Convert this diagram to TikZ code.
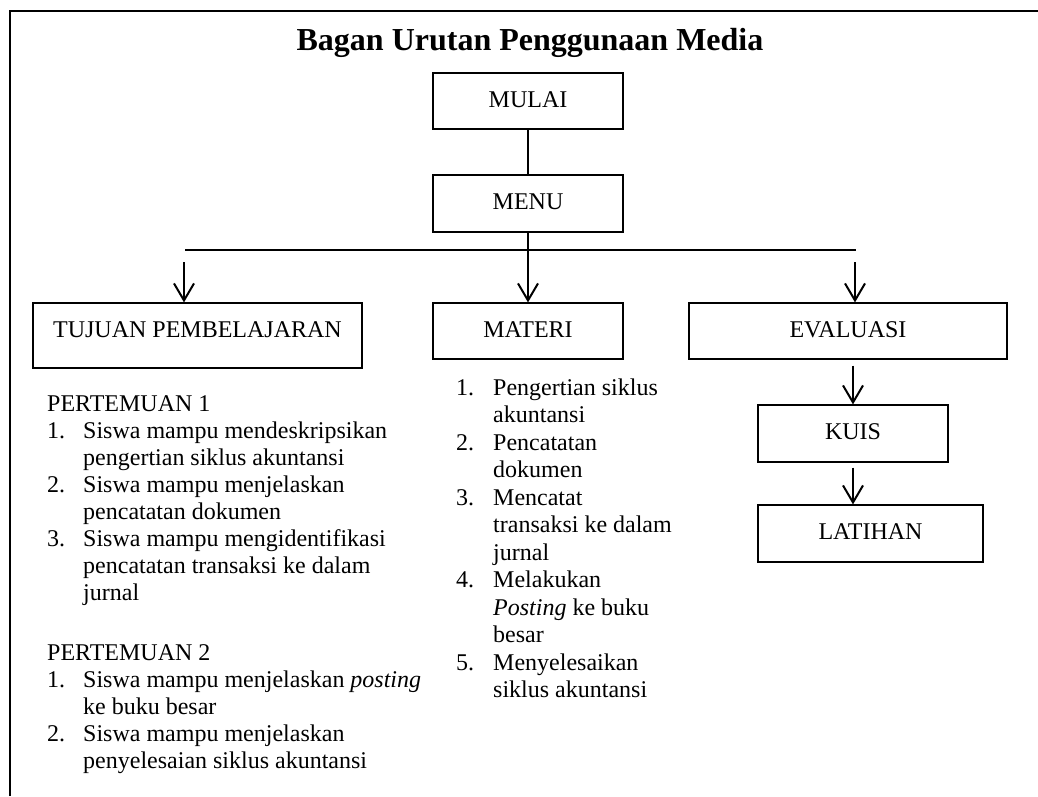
\documentclass[tikz,border=0pt]{standalone}
\usepackage{fontspec}
\setmainfont{Liberation Serif}
\usetikzlibrary{arrows.meta}
\begin{document}
\begin{tikzpicture}[x=1pt,y=-1pt,
  box/.style={draw, line width=1.2pt, inner sep=0pt, text height=34pt, font=\fontsize{24}{27}\selectfont},
  link/.style={line width=2pt},
  arr/.style={line width=2pt, -{Straight Barb[length=17pt,width=20pt,line width=2pt]}},
  listtext/.style={inner sep=0pt, anchor=base west}
]
\useasboundingbox (0,0) rectangle (1038,796);
\draw[line width=1.2pt] (10,796) -- (10,11) -- (1038,11);

\node[font=\bfseries\fontsize{32}{36}\selectfont, anchor=base, inner sep=0pt] (title) at (530,50) {Bagan Urutan Penggunaan Media};

\node[box, minimum width=190pt, text depth=22pt] (mulai) at (528,101) {MULAI};
\node[box, minimum width=190pt, text depth=23pt] (menu) at (528,203.5) {MENU};
\node[box, minimum width=329pt, text depth=31pt] (tujuan) at (197.5,335.5) {TUJUAN PEMBELAJARAN};
\node[box, minimum width=190pt, text depth=22pt] (materi) at (528,331) {MATERI};
\node[box, minimum width=318pt, text depth=22pt] (evaluasi) at (848,331) {EVALUASI};
\node[box, minimum width=190pt, text depth=23pt] (kuis) at (853,433.5) {KUIS};
\node[box, minimum width=225pt, text depth=23pt] (latihan) at (870.5,533.5) {LATIHAN};

\coordinate (barL) at (185,250);
\coordinate (barR) at (856,250);
\coordinate (aL) at (184,262);
\coordinate (aR) at (855,262);

\draw[link] (mulai.south) -- (menu.north);
\draw[link] (barL) -- (barR);
\draw[arr] (menu.south) -- (materi.north);
\draw[arr] (aL) -- (aL |- tujuan.north);
\draw[arr] (aR) -- (aR |- evaluasi.north);
\draw[arr, shorten <=6pt] (kuis.north |- evaluasi.south) -- (kuis.north);
\draw[arr, shorten <=5pt] (kuis.south) -- (kuis.south |- latihan.north);

\node[listtext, font=\fontsize{24}{27}\selectfont] (p1) at (47,411) {%
\begin{tabular}[t]{@{}p{36pt}@{}l@{}}
\multicolumn{2}{@{}l@{}}{PERTEMUAN 1}\\
1. & Siswa mampu mendeskripsikan\\
 & pengertian siklus akuntansi\\
2. & Siswa mampu menjelaskan\\
 & pencatatan dokumen\\
3. & Siswa mampu mengidentifikasi\\
 & pencatatan transaksi ke dalam\\
 & jurnal
\end{tabular}};

\node[listtext, font=\fontsize{24}{27}\selectfont] (p2) at (47,660) {%
\begin{tabular}[t]{@{}p{36pt}@{}l@{}}
\multicolumn{2}{@{}l@{}}{PERTEMUAN 2}\\
1. & Siswa mampu menjelaskan \textit{posting}\\
 & ke buku besar\\
2. & Siswa mampu menjelaskan\\
 & penyelesaian siklus akuntansi
\end{tabular}};

\node[listtext, font=\fontsize{24}{27.5}\selectfont] (mlist) at (456,395) {%
\begin{tabular}[t]{@{}p{37pt}@{}l@{}}
1. & Pengertian siklus\\
 & akuntansi\\
2. & Pencatatan\\
 & dokumen\\
3. & Mencatat\\
 & transaksi ke dalam\\
 & jurnal\\
4. & Melakukan\\
 & \textit{Posting} ke buku\\
 & besar\\
5. & Menyelesaikan\\
 & siklus akuntansi
\end{tabular}};
\end{tikzpicture}
\end{document}
